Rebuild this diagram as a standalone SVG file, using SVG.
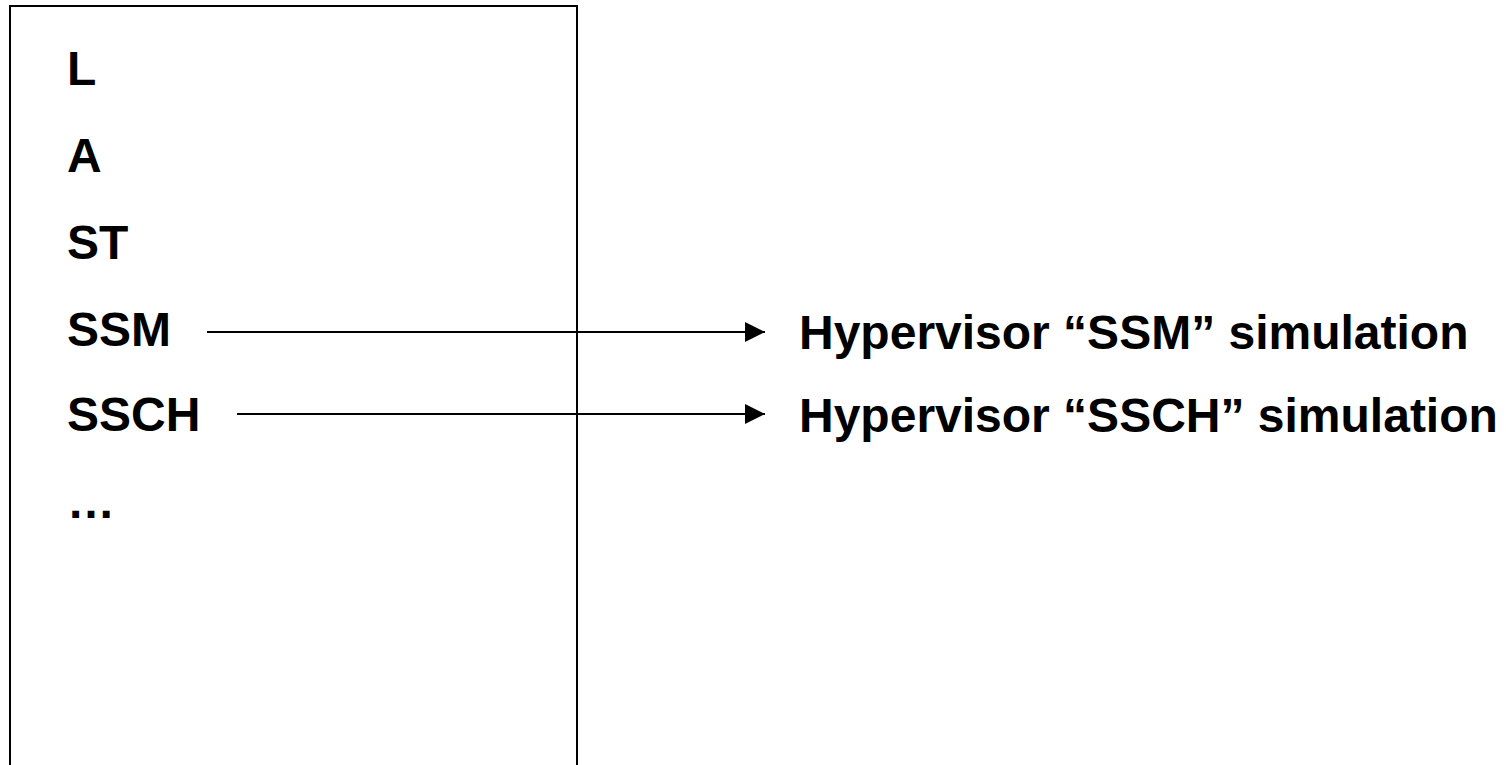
<svg xmlns="http://www.w3.org/2000/svg" width="1506" height="765" viewBox="0 0 1506 765">
  <style>
    .lbl { font-family: "Liberation Sans", Arial, sans-serif; font-weight: bold; font-size: 48px; fill: #000; }
    .box { fill: #fff; stroke: #000; stroke-width: 2; }
    .conn { stroke: #000; stroke-width: 2; fill: none; }
  </style>
  <defs>
    <marker id="arrow" viewBox="0 0 20 20" refX="20" refY="10" markerWidth="20" markerHeight="20" markerUnits="userSpaceOnUse" orient="auto">
      <path d="M0,0 L20,10 L0,20 Z" fill="#000"/>
    </marker>
  </defs>
  <rect width="1506" height="765" fill="#fff"/>
  <g id="list-box">
    <rect class="box" x="10" y="6" width="567" height="800"/>
    <text class="lbl" x="67" y="85">L</text>
    <text class="lbl" x="67" y="172">A</text>
    <text class="lbl" x="67" y="259">ST</text>
    <text class="lbl" x="67" y="346">SSM</text>
    <text class="lbl" x="67" y="431">SSCH</text>
    <text class="lbl" x="67" y="518">…</text>
  </g>
  <g id="ssm-target">
    <text class="lbl" x="799" y="349">Hypervisor “SSM” simulation</text>
  </g>
  <g id="ssch-target">
    <text class="lbl" x="799" y="432">Hypervisor “SSCH” simulation</text>
  </g>
  <g id="connectors">
    <line class="conn" x1="207" y1="332" x2="765" y2="332" marker-end="url(#arrow)"/>
    <line class="conn" x1="237" y1="414" x2="765" y2="414" marker-end="url(#arrow)"/>
  </g>
</svg>
